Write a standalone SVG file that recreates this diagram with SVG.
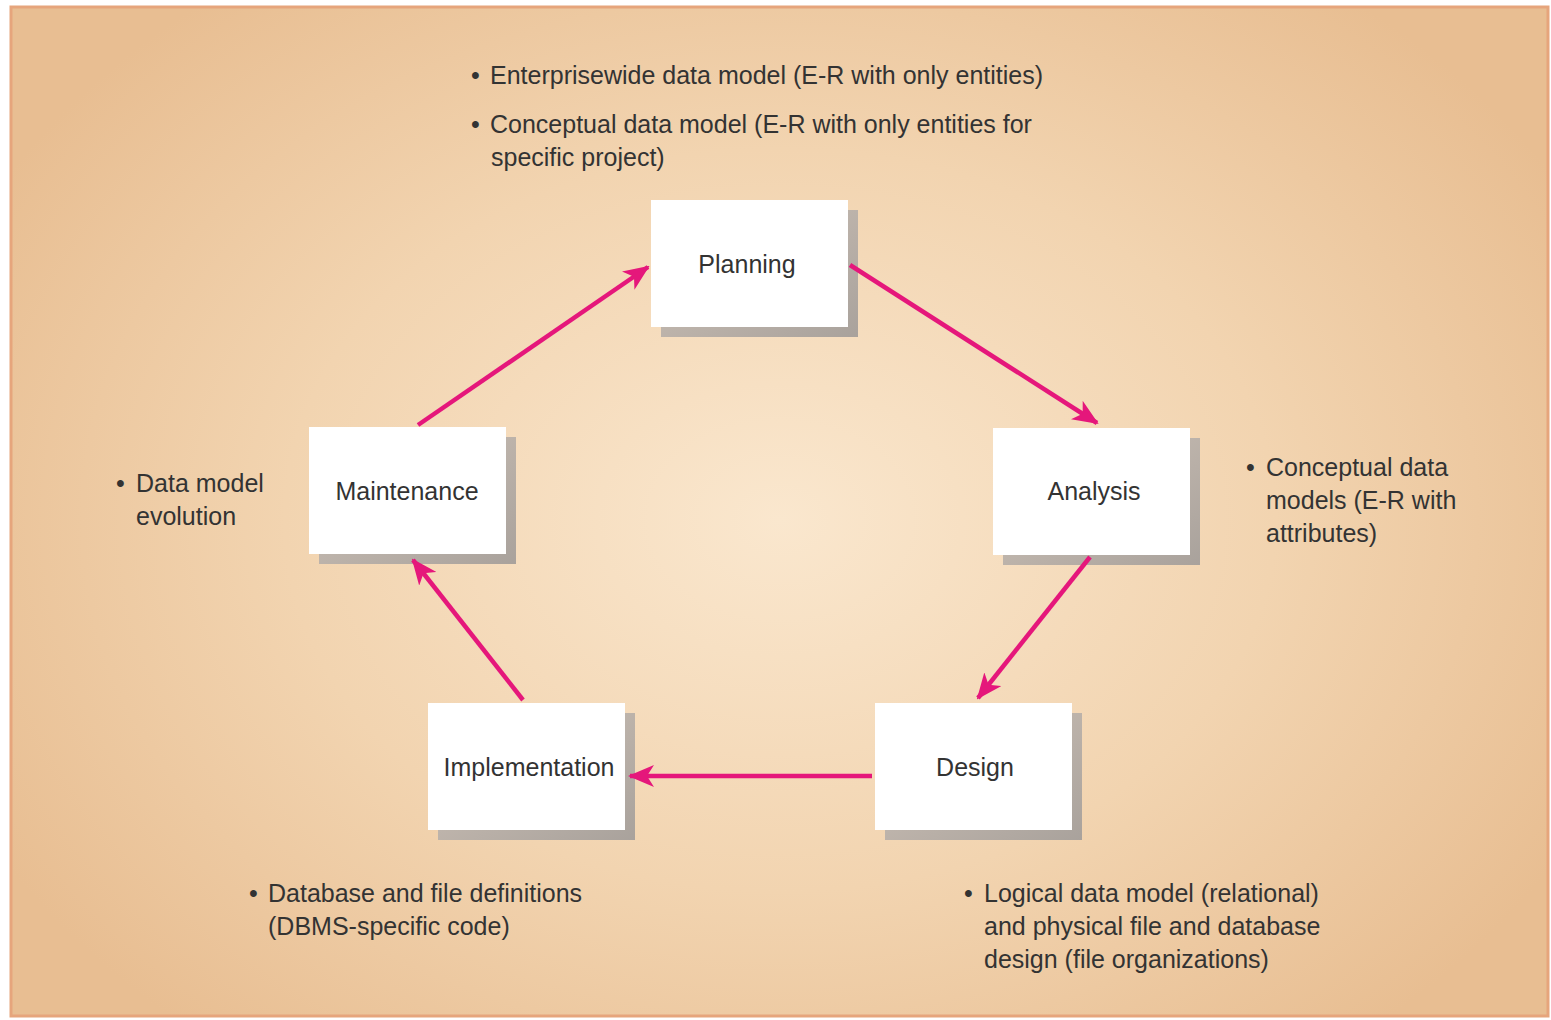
<svg xmlns="http://www.w3.org/2000/svg" width="1551" height="1020" viewBox="0 0 1551 1020">
<defs>
<radialGradient id="bg" cx="780" cy="520" r="900" gradientUnits="userSpaceOnUse" gradientTransform="translate(780 520) scale(1 0.75) translate(-780 -520)">
<stop offset="0" stop-color="#FAE7CE"/>
<stop offset="0.55" stop-color="#F2D4B0"/>
<stop offset="1" stop-color="#E8BE92"/>
</radialGradient>
<linearGradient id="sh" x1="0" y1="0" x2="1" y2="1">
<stop offset="0" stop-color="#CFC3B8"/>
<stop offset="1" stop-color="#A9A29C"/>
</linearGradient>
<marker id="ah" viewBox="0 0 26 22" refX="24" refY="11" markerWidth="26" markerHeight="22" markerUnits="userSpaceOnUse" orient="auto">
<path d="M0,0 L26,11 L0,22 L7,11 Z" fill="#E5177B"/>
</marker>
<style>
.box{fill:#FFFFFF;}
.shadow{fill:url(#sh);}
.lbl{font-family:"Liberation Sans",Arial,sans-serif;font-size:25px;fill:#333333;text-anchor:middle;}
.note{font-family:"Liberation Sans",Arial,sans-serif;font-size:25px;fill:#333333;}
.conn{stroke:#E5177B;stroke-width:4.5;fill:none;marker-end:url(#ah);}
</style>
</defs>
<rect x="0" y="0" width="1551" height="1020" fill="#FFFFFF"/>
<rect x="11" y="7" width="1537" height="1009" fill="url(#bg)" stroke="#E6A57C" stroke-width="3"/>

<g id="planning">
<rect class="shadow" x="661" y="210" width="197" height="127"/>
<rect class="box" x="651" y="200" width="197" height="127"/>
<text class="lbl" x="747" y="273">Planning</text>
</g>
<g id="analysis">
<rect class="shadow" x="1003" y="438" width="197" height="127"/>
<rect class="box" x="993" y="428" width="197" height="127"/>
<text class="lbl" x="1094" y="500">Analysis</text>
</g>
<g id="maintenance">
<rect class="shadow" x="319" y="437" width="197" height="127"/>
<rect class="box" x="309" y="427" width="197" height="127"/>
<text class="lbl" x="407" y="500">Maintenance</text>
</g>
<g id="implementation">
<rect class="shadow" x="438" y="713" width="197" height="127"/>
<rect class="box" x="428" y="703" width="197" height="127"/>
<text class="lbl" x="529" y="776">Implementation</text>
</g>
<g id="design">
<rect class="shadow" x="885" y="713" width="197" height="127"/>
<rect class="box" x="875" y="703" width="197" height="127"/>
<text class="lbl" x="975" y="776">Design</text>
</g>

<g id="connectors">
<line class="conn" x1="850" y1="265" x2="1097" y2="423"/>
<line class="conn" x1="1090" y1="557" x2="978" y2="698"/>
<line class="conn" x1="872" y1="776" x2="630" y2="776"/>
<line class="conn" x1="523" y1="700" x2="413" y2="560"/>
<line class="conn" x1="418" y1="425" x2="648" y2="267"/>
</g>

<g id="note-planning">
<text class="note" x="471" y="84">•</text><text class="note" x="490" y="84">Enterprisewide data model (E-R with only entities)</text>
<text class="note" x="471" y="133">•</text><text class="note" x="490" y="133">Conceptual data model (E-R with only entities for</text>
<text class="note" x="491" y="166">specific project)</text>
</g>
<g id="note-maintenance">
<text class="note" x="116" y="492">•</text><text class="note" x="136" y="492">Data model</text>
<text class="note" x="136" y="525">evolution</text>
</g>
<g id="note-analysis">
<text class="note" x="1246" y="476">•</text><text class="note" x="1266" y="476">Conceptual data</text>
<text class="note" x="1266" y="509">models (E-R with</text>
<text class="note" x="1266" y="542">attributes)</text>
</g>
<g id="note-implementation">
<text class="note" x="249" y="902">•</text><text class="note" x="268" y="902">Database and file definitions</text>
<text class="note" x="268" y="935">(DBMS-specific code)</text>
</g>
<g id="note-design">
<text class="note" x="964" y="902">•</text><text class="note" x="984" y="902">Logical data model (relational)</text>
<text class="note" x="984" y="935">and physical file and database</text>
<text class="note" x="984" y="968">design (file organizations)</text>
</g>
</svg>
